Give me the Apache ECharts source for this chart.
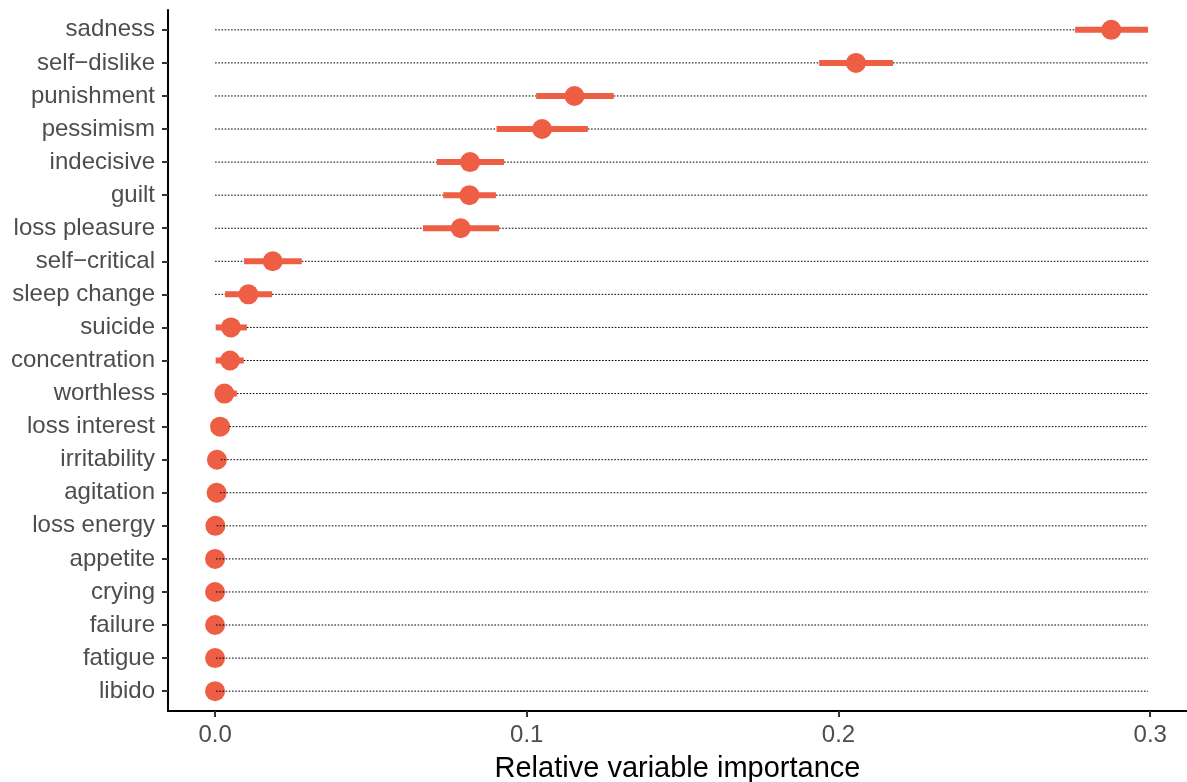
<!DOCTYPE html>
<html>
<head>
<meta charset="utf-8">
<script src="https://cdn.jsdelivr.net/npm/echarts@6/dist/echarts.min.js"></script>
<style>
    html, body {margin: 0; padding: 0; background: #fff;}
    #chart {width: 1187px; height: 782px;}
</style>
</head>
<body>
<div id="chart"></div>
<script>
var symptoms = ['sadness', 'self\u2212dislike', 'punishment', 'pessimism', 'indecisive', 'guilt',
    'loss pleasure', 'self\u2212critical', 'sleep change', 'suicide', 'concentration', 'worthless',
    'loss interest', 'irritability', 'agitation', 'loss energy', 'appetite', 'crying', 'failure',
    'fatigue', 'libido'];
var importance = [0.2875, 0.2056, 0.1153, 0.1049, 0.0818, 0.0816, 0.0788, 0.0185, 0.0107, 0.0051,
    0.0048, 0.0030, 0.0016, 0.0006, 0.0005, 0.0001, 0, 0, 0, 0, 0];
var lower = [0.2759, 0.1938, 0.1030, 0.0903, 0.0711, 0.0732, 0.0667, 0.0093, 0.0032, 0.0002,
    0.0002, 0, 0, 0, 0, 0, 0, 0, 0, 0, 0];
var upper = [0.2993, 0.2175, 0.1279, 0.1196, 0.0927, 0.0901, 0.0911, 0.0278, 0.0183, 0.0102,
    0.0092, 0.0070, 0.0046, 0.0018, 0.0016, 0.0005, 0.0003, 0.0003, 0.0003, 0.0003, 0.0003];
var xTicks = [0, 0.1, 0.2, 0.3];

var red = '#ee5e45';
var font = '"Liberation Sans", Arial, Helvetica, sans-serif';
var lineEnd = Math.max.apply(null, upper);

var rows = symptoms.map(function (s, i) {
    return [lower[i], upper[i], i];
});
var points = symptoms.map(function (s, i) {
    return [importance[i], i];
});
var yIdx = symptoms.map(function (s, i) { return i; });

// thick interval bar
function renderBar(params, api) {
    var a = api.coord([api.value(0), api.value(2)]);
    var b = api.coord([api.value(1), api.value(2)]);
    return {
        type: 'line',
        shape: {x1: a[0], y1: a[1], x2: b[0], y2: b[1]},
        style: {stroke: red, lineWidth: 6, lineCap: 'butt'}
    };
}

// dotted guide outside the interval
function renderGuide(params, api) {
    var y = api.value(2);
    var s = api.coord([0, y]);
    var lo = api.coord([api.value(0), y]);
    var hi = api.coord([api.value(1), y]);
    var e = api.coord([lineEnd, y]);
    var st = {stroke: '#000', lineWidth: 1, lineDash: [1.6, 1.6]};
    var kids = [];
    if (lo[0] - s[0] > 1) {
        kids.push({type: 'line', shape: {x1: s[0], y1: s[1], x2: lo[0], y2: lo[1]}, style: st});
    }
    if (e[0] - hi[0] > 1) {
        kids.push({type: 'line', shape: {x1: hi[0], y1: hi[1], x2: e[0], y2: e[1]}, style: st});
    }
    return {type: 'group', children: kids};
}

var e = echarts.init(document.getElementById('chart'), null, {renderer: 'canvas'});
e.setOption({
    animation: false,
    backgroundColor: '#fff',
    grid: {left: 168, right: 0, top: 10, bottom: 71, containLabel: false, outerBoundsMode: 'none'},
    xAxis: {
        type: 'value',
        min: -0.0151,
        max: 0.3118,
        name: 'Relative variable importance',
        nameLocation: 'middle',
        nameGap: 43,
        nameTextStyle: {color: '#000', fontSize: 29, fontFamily: font},
        axisLine: {show: true, onZero: false, lineStyle: {color: '#000', width: 2}},
        axisTick: {show: true, customValues: xTicks, length: 6, lineStyle: {color: '#333', width: 2}},
        axisLabel: {
            customValues: xTicks, margin: 12, color: '#4d4d4d', fontSize: 24, fontFamily: font,
            formatter: function (v) { return v.toFixed(1); }
        },
        splitLine: {show: false}
    },
    yAxis: {
        type: 'value',
        inverse: true,
        min: -0.6,
        max: 20.6,
        axisLine: {show: true, onZero: false, lineStyle: {color: '#000', width: 2}},
        axisTick: {show: true, customValues: yIdx, length: 6, lineStyle: {color: '#333', width: 2}},
        axisLabel: {
            customValues: yIdx, margin: 13, color: '#4d4d4d', fontSize: 24, fontFamily: font,
            padding: [4, 0, 0, 0],
            formatter: function (v) { return symptoms[Math.round(v)]; }
        },
        splitLine: {show: false}
    },
    series: [
        {
            type: 'custom',
            renderItem: renderBar,
            data: rows,
            encode: {x: [0, 1], y: 2},
            z: 2,
            silent: true
        },
        {
            type: 'scatter',
            data: points,
            symbol: 'circle',
            symbolSize: 20,
            itemStyle: {color: red, opacity: 1},
            z: 3,
            silent: true
        },
        {
            type: 'custom',
            renderItem: renderGuide,
            data: rows,
            encode: {x: [0, 1], y: 2},
            z: 4,
            silent: true
        }
    ]
});
window.onresize = function () {
    e.resize();
};
</script>
</body>
</html>
